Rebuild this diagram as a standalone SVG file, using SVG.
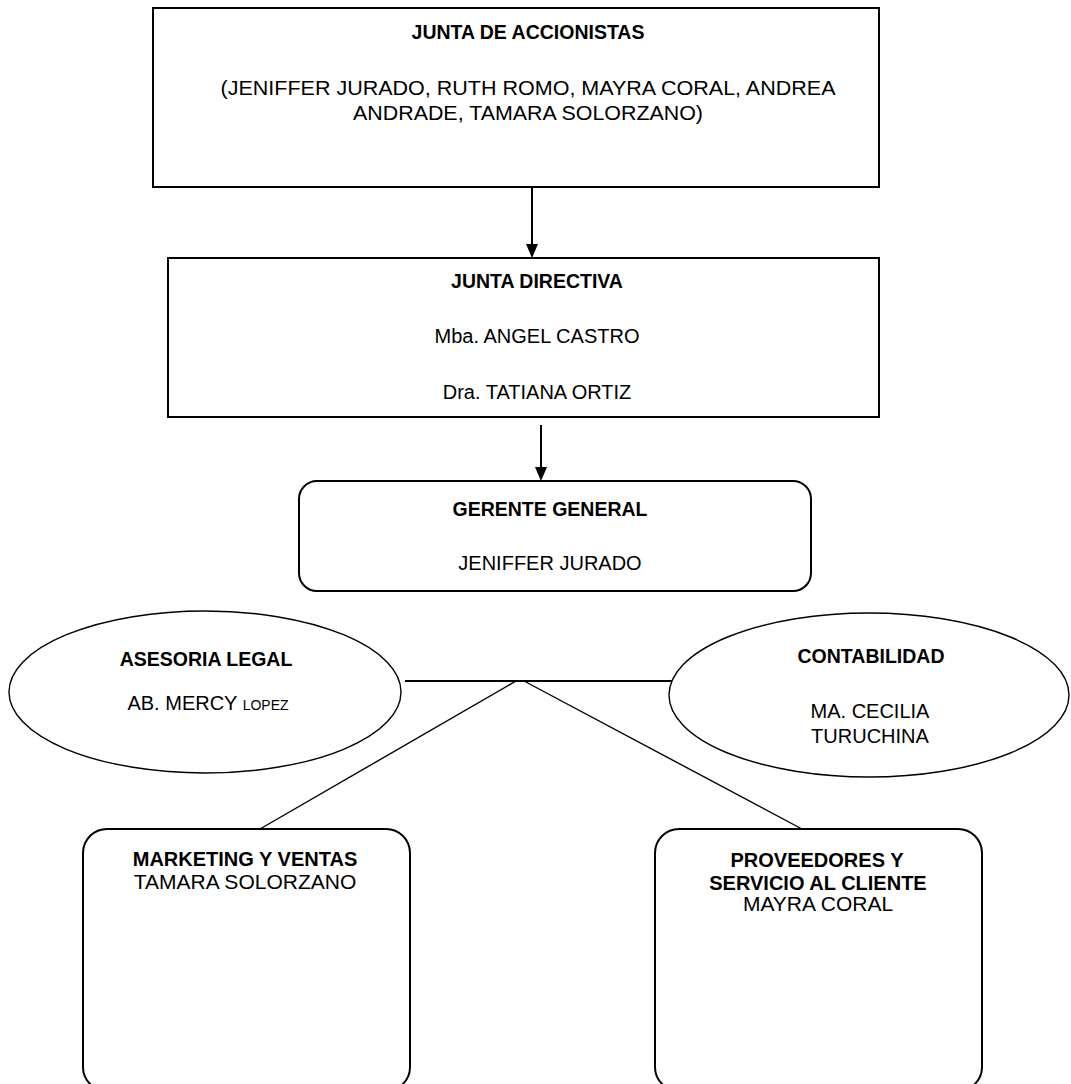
<svg xmlns="http://www.w3.org/2000/svg" width="1071" height="1084" viewBox="0 0 1071 1084">
<style>
text{font-family:"Liberation Sans",Arial,sans-serif;fill:#000;text-anchor:middle}
.n{font-size:20px}
.nb{font-size:19.5px;font-weight:bold}
.box{fill:#fff;stroke:#000;stroke-width:2}
.ell{fill:#fff;stroke:#000;stroke-width:1.4}
.ln{stroke:#000;fill:none}
.ah{fill:#000}
</style>
<g id="connectors">
<line class="ln" x1="532" y1="188" x2="532" y2="244" stroke-width="2"/>
<path class="ah" d="M526,244 L538,244 L532,258 Z"/>
<line class="ln" x1="541" y1="425" x2="541" y2="467" stroke-width="2"/>
<path class="ah" d="M535,467 L547,467 L541,481 Z"/>
<line class="ln" x1="405" y1="681" x2="676" y2="681" stroke-width="2.2"/>
<line class="ln" x1="516" y1="681" x2="260" y2="829" stroke-width="1.4"/>
<line class="ln" x1="524" y1="681" x2="802" y2="829" stroke-width="1.4"/>
</g>
<g id="junta-accionistas">
<rect class="box" x="153" y="8" width="726" height="179"/>
<text class="nb" x="528" y="39">JUNTA DE ACCIONISTAS</text>
<text class="n" x="528" y="95" textLength="615" lengthAdjust="spacingAndGlyphs">(JENIFFER JURADO, RUTH ROMO, MAYRA CORAL, ANDREA</text>
<text class="n" x="528" y="120" textLength="350" lengthAdjust="spacingAndGlyphs">ANDRADE, TAMARA SOLORZANO)</text>
</g>
<g id="junta-directiva">
<rect class="box" x="168" y="258" width="711" height="159"/>
<text class="nb" x="537" y="288">JUNTA DIRECTIVA</text>
<text class="n" x="537" y="343">Mba. ANGEL CASTRO</text>
<text class="n" x="537" y="399">Dra. TATIANA ORTIZ</text>
</g>
<g id="gerente-general">
<rect class="box" x="299" y="481" width="512" height="110" rx="18" ry="18"/>
<text class="nb" x="550" y="516">GERENTE GENERAL</text>
<text class="n" x="550" y="570">JENIFFER JURADO</text>
</g>
<g id="asesoria-legal">
<ellipse class="ell" cx="205" cy="692" rx="196" ry="81"/>
<text class="nb" x="206" y="666">ASESORIA LEGAL</text>
<text class="n" x="208" y="710">AB. MERCY <tspan font-size="14">LOPEZ</tspan></text>
</g>
<g id="contabilidad">
<ellipse class="ell" cx="869" cy="695" rx="200" ry="82"/>
<text class="nb" x="871" y="663">CONTABILIDAD</text>
<text class="n" x="870" y="718">MA. CECILIA</text>
<text class="n" x="870" y="743">TURUCHINA</text>
</g>
<g id="marketing">
<rect class="box" x="83" y="829" width="327" height="262" rx="24" ry="24"/>
<text class="nb" x="245" y="866" style="font-size:20px">MARKETING Y VENTAS</text>
<text class="n" x="245" y="889" style="font-size:21px">TAMARA SOLORZANO</text>
</g>
<g id="proveedores">
<rect class="box" x="655" y="829" width="327" height="262" rx="24" ry="24"/>
<text class="nb" x="817" y="867" style="font-size:20px">PROVEEDORES Y</text>
<text class="nb" x="818" y="890" style="font-size:20px">SERVICIO AL CLIENTE</text>
<text class="n" x="818" y="911" style="font-size:21px">MAYRA CORAL</text>
</g>
</svg>
